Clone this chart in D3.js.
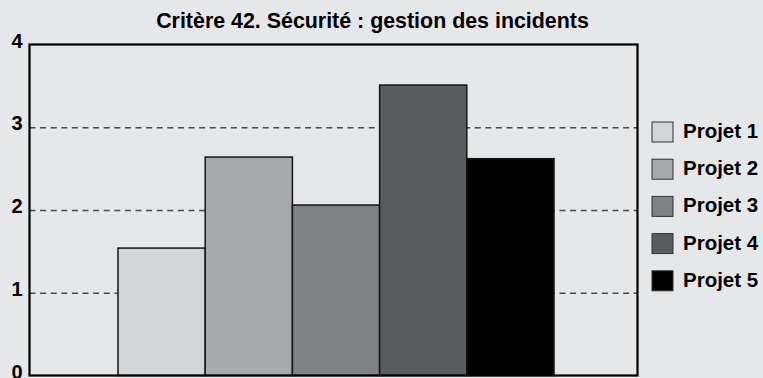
<!DOCTYPE html>
<html>
<head>
<meta charset="utf-8">
<script src="https://cdn.jsdelivr.net/npm/d3@7"></script>
<style>
  html, body { margin: 0; padding: 0; background: #e6e7e9; }
  svg { display: block; }
  text { font-family: "Liberation Sans", Arial, Helvetica, sans-serif; font-weight: bold; fill: #000; }
</style>
</head>
<body>
<svg id="chart" width="763" height="378"></svg>
<script>
// Chart data
const title = "Critère 42. Sécurité : gestion des incidents";
const projects = ["Projet 1", "Projet 2", "Projet 3", "Projet 4", "Projet 5"];
const scores = [1.54, 2.64, 2.06, 3.51, 2.62];
const fills = ["#d4d5d7", "#a8a9ac", "#808184", "#5a5b5d", "#000000"];
const yTicks = [0, 1, 2, 3, 4];

const svg = d3.select("#chart");
const W = 763, H = 378;
const plot = { left: 29.5, right: 637.5, top: 44.5, bottom: 375.5 };

svg.append("rect").attr("width", W).attr("height", H).attr("fill", "#e6e7e9");

const y = d3.scaleLinear().domain([0, 4]).range([plot.bottom, plot.top]);
const x = d3.scaleBand()
  .domain(projects)
  .range([plot.left + 88.5, plot.right - 83.5])
  .paddingInner(0);

// Dashed horizontal gridlines
const grid = svg.append("g")
  .attr("transform", `translate(${plot.left},0)`)
  .call(d3.axisLeft(y).tickValues([1, 2, 3]).tickSize(-(plot.right - plot.left)).tickFormat(""));
grid.select(".domain").remove();
grid.selectAll("line")
  .attr("stroke", "#4a4a4a")
  .attr("stroke-width", 1.5)
  .attr("stroke-dasharray", "6,4.6");

// Bars
svg.append("g").selectAll("rect")
  .data(projects)
  .join("rect")
  .attr("x", d => x(d))
  .attr("y", (d, i) => y(scores[i]))
  .attr("width", x.bandwidth())
  .attr("height", (d, i) => y(0) - y(scores[i]))
  .attr("fill", (d, i) => fills[i])
  .attr("stroke", "#161616")
  .attr("stroke-width", 1.5);

// Plot frame
svg.append("rect")
  .attr("x", plot.left).attr("y", plot.top)
  .attr("width", plot.right - plot.left).attr("height", plot.bottom - plot.top)
  .attr("fill", "none").attr("stroke", "#000").attr("stroke-width", 2.2);

// Y axis labels
const yAxis = svg.append("g")
  .attr("transform", `translate(${plot.left},0)`)
  .call(d3.axisLeft(y).tickValues(yTicks).tickSize(0).tickPadding(7).tickFormat(d3.format("d")));
yAxis.select(".domain").remove();
yAxis.selectAll("text")
  .attr("font-size", 20)
  .attr("font-family", "'Liberation Sans', Arial, sans-serif")
  .attr("font-weight", "bold")
  .attr("fill", "#000")
  .attr("dy", "2.5px");

// Title
svg.append("text")
  .attr("x", 372.5)
  .attr("y", 28)
  .attr("text-anchor", "middle")
  .attr("font-size", 21.4)
  .text(title);

// Legend
const legend = svg.append("g").selectAll("g")
  .data(projects)
  .join("g")
  .attr("transform", (d, i) => `translate(652,${122 + i * 37.2})`);
legend.append("rect")
  .attr("width", 21).attr("height", 20)
  .attr("fill", (d, i) => fills[i])
  .attr("stroke", "#333")
  .attr("stroke-width", 1);
legend.append("text")
  .attr("x", 31)
  .attr("y", 16)
  .attr("font-size", 20.5)
  .text(d => d);
</script>
</body>
</html>
